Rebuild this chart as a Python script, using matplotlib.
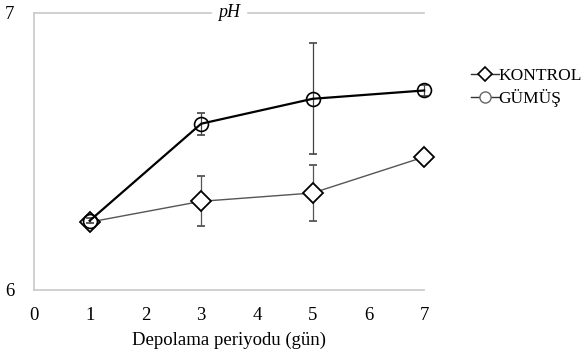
import numpy as np
import matplotlib.pyplot as plt
from matplotlib.lines import Line2D

plt.rcParams['font.family'] = ['Liberation Serif', 'DejaVu Serif']

days = [1, 3, 5, 7]
kontrol = [6.245, 6.32, 6.35, 6.48]
kontrol_err = [0.01, 0.09, 0.10, 0.01]
gumus = [6.25, 6.60, 6.69, 6.72]
gumus_err = [0.01, 0.04, 0.20, 0.02]

fig = plt.figure(figsize=(5.85, 3.58), dpi=100)
ax = fig.add_axes([0.058, 0.19, 0.667, 0.774])

k = ax.errorbar(days, kontrol, yerr=kontrol_err, color='#555555', lw=1.0,
                ecolor='#555555', elinewidth=0.9, capsize=3,
                marker='D', ms=10, mfc='white', mec='black', mew=1.3, zorder=3)
g = ax.errorbar(days, gumus, yerr=gumus_err, color='black', lw=1.6,
                ecolor='#444444', elinewidth=0.9, capsize=3,
                marker='o', ms=10, mfc='none', mec='black', mew=1.2, zorder=4)
for cont in (k, g):
    for art in cont.get_children():
        art.set_clip_on(False)

ax.set_xlim(0, 7)
ax.set_ylim(6, 7)
ax.set_xticks(range(8))
ax.set_yticks([6, 7])
ax.tick_params(length=0, labelsize=13.5)
ax.tick_params(axis='x', pad=12)
ax.tick_params(axis='y', pad=14)
for s in ['left', 'top', 'bottom']:
    ax.spines[s].set_color('#c8c8c8')
    ax.spines[s].set_linewidth(1.2)
ax.spines['right'].set_visible(False)

ax.set_xlabel('Depolama periyodu (gün)', fontsize=13.5, labelpad=6)
ax.text(0.5, 1.0, 'pH', transform=ax.transAxes, ha='center', va='center',
        fontsize=13, style='italic', backgroundcolor='white', zorder=5)

handles = [Line2D([], [], color='#333333', lw=1.0, marker='D', ms=7, mfc='white', mec='black', mew=1.2),
           Line2D([], [], color='#333333', lw=1.0, marker='o', ms=8, mfc='white', mec='#666666', mew=1.0)]
fig.legend(handles, ['KONTROL', 'GÜMÜŞ'], loc='upper left', bbox_to_anchor=(0.793, 0.83),
           frameon=False, fontsize=12.5, handlelength=1.6, handletextpad=0.0,
           labelspacing=0.3, borderaxespad=0)

fig.savefig('out.png', dpi=100)
